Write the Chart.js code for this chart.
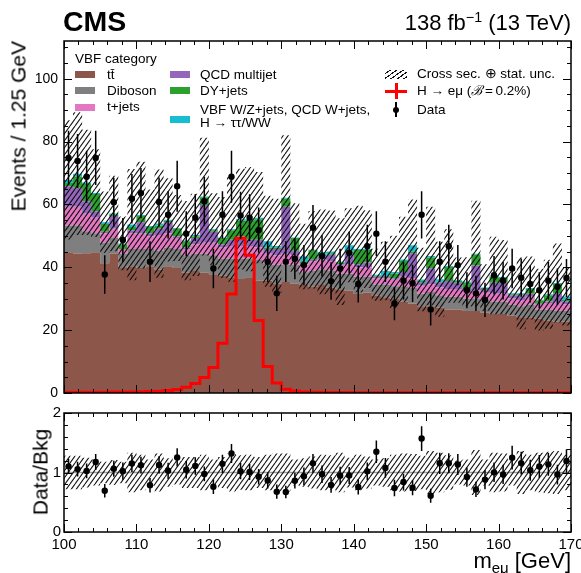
<!DOCTYPE html>
<html>
<head>
<meta charset="utf-8">
<script src="https://cdn.jsdelivr.net/npm/chart.js@4.4.1/dist/chart.umd.min.js"></script>
<style>
body{margin:0;background:#fff;font-family:"Liberation Sans",Arial,Helvetica,sans-serif;color:#000;}
#wrap{position:relative;width:581px;height:573px;overflow:hidden;}
canvas{position:absolute;left:0;}
.t{position:absolute;white-space:nowrap;line-height:1;}
.lg{font-size:13.5px;transform:translateY(-50%);}
.box{position:absolute;width:20px;height:7px;}
</style>
</head>
<body>
<div id="wrap">
  <canvas id="main" width="581" height="400" style="top:0"></canvas>
  <canvas id="ratio" width="581" height="173" style="top:400px"></canvas>

  <div class="t" style="left:63px;top:7px;font-size:28.5px;font-weight:bold;">CMS</div>
  <div class="t" style="right:10px;top:12px;font-size:22px;">138 fb<span style="font-size:0.65em;position:relative;top:-0.55em;">&minus;1</span> (13 TeV)</div>

  <div class="t" style="left:18px;top:41px;font-size:21px;transform-origin:0 0;transform:rotate(-90deg) translate(-100%,-50%);">Events / 1.25 GeV</div>
  <div class="t" style="left:40px;top:472px;font-size:21px;transform-origin:0 0;transform:rotate(-90deg) translate(-50%,-50%);">Data/Bkg</div>
  <div class="t" style="right:10px;top:550px;font-size:22px;">m<span style="font-size:0.68em;position:relative;top:0.35em;">eμ</span> [GeV]</div>

  <!-- legend -->
  <div class="t lg" style="left:75px;top:59px;">VBF category</div>
  <div class="box" style="left:75px;top:71px;background:#8c564b"></div>
  <div class="t lg" style="left:107px;top:74.5px;">tt&#x0304;</div>
  <div class="box" style="left:75px;top:87px;background:#7f7f7f"></div>
  <div class="t lg" style="left:107px;top:90.5px;">Diboson</div>
  <div class="box" style="left:75px;top:103.5px;background:#e377c2"></div>
  <div class="t lg" style="left:107px;top:107px;">t+jets</div>

  <div class="box" style="left:170px;top:71px;background:#9467bd"></div>
  <div class="t lg" style="left:200px;top:74.5px;">QCD multijet</div>
  <div class="box" style="left:170px;top:87px;background:#2ca02c"></div>
  <div class="t lg" style="left:200px;top:90.5px;">DY+jets</div>
  <div class="box" style="left:170px;top:116px;background:#17becf"></div>
  <div class="t lg" style="left:200px;top:110px;">VBF W/Z+jets, QCD W+jets,</div>
  <div class="t lg" style="left:200px;top:123px;">H &rarr; &tau;&tau;/WW</div>

  <div class="box" style="left:385px;top:70px;width:22px;height:9px;background:repeating-linear-gradient(145deg,#fff 0 2.6px,#111 2.6px 3.7px);"></div>
  <div class="t lg" style="left:417px;top:74px;">Cross sec. &oplus; stat. unc.</div>
  <div style="position:absolute;left:385px;top:89.5px;width:22px;height:3px;background:#ff0000"></div>
  <div style="position:absolute;left:394.5px;top:83px;width:3px;height:16px;background:#ff0000"></div>
  <div class="t lg" style="left:417px;top:91px;">H &rarr; eμ (<i>ℬ</i>&thinsp;=&thinsp;0.2%)</div>
  <div style="position:absolute;left:395.2px;top:102px;width:1.6px;height:15px;background:#000"></div>
  <div style="position:absolute;left:393px;top:106.5px;width:6px;height:6px;border-radius:50%;background:#000"></div>
  <div class="t lg" style="left:417px;top:110px;">Data</div>
</div>

<script>
// binning
const binStart = 100;
const binWidth = 1.25;
const xTickLabels = [100,110,120,130,140,150,160,170];
const yTickLabels = [0,20,40,60,80,100];
const ratioTickLabels = [0,1,2];

// backgrounds, events per bin
const ttbar = [44.8,44.3,44.5,44.8,41.3,44.3,39.8,40.3,39.8,40.3,
  39.3,40.3,39.8,38.3,38.8,38.3,37.8,37.3,36.8,36.3,
  36.8,35.8,35.8,34.8,35.3,34.8,34.4,33.9,34.4,33.5,
  33.0,32.5,31.5,32.0,31.0,30.5,30.0,29.0,28.5,27.6,
  27.6,27.1,26.6,26.6,26.1,26.1,25.6,25.1,25.1,24.6,
  24.1,24.1,23.6,23.1,22.7,22.7];
const diboson = [8.5,9.0,7.0,6.0,6.5,5.0,4.5,5.5,6.0,5.5,
  6.0,6.0,6.0,5.5,5.5,6.0,6.0,5.5,6.0,6.5,
  6.0,6.5,5.5,6.0,5.5,6.0,4.0,5.0,5.0,5.5,
  5.0,5.5,5.5,5.0,3.5,4.0,4.0,5.0,5.0,4.0,
  4.5,4.0,4.0,4.0,4.0,4.0,4.0,4.0,4.0,3.5,
  3.5,4.0,3.0,3.5,3.5,3.5];
const tjets = [6.0,6.0,5.5,5.0,3.0,3.0,1.5,5.0,5.0,4.0,
  5.0,4.5,3.5,2.0,3.0,3.5,4.0,3.5,4.0,4.0,
  4.0,4.0,3.0,3.0,3.5,3.0,2.5,3.0,3.0,3.0,
  2.5,3.0,3.0,3.0,2.0,2.0,2.0,3.0,3.0,2.5,
  2.5,2.5,2.5,2.5,2.0,2.5,2.5,2.5,2.5,2.0,
  2.0,2.5,1.5,2.0,2.5,2.0];
const qcd = [6.5,6.0,4.0,2.0,0.5,4.0,0.0,1.0,3.5,1.0,
  2.0,3.5,0.5,0.5,2.0,12.0,3.5,1.0,2.0,3.0,
  2.0,2.5,1.5,2.0,15.0,1.5,0.5,0.5,1.0,2.0,
  0.5,3.5,1.0,1.5,0.5,0.5,0.5,1.5,8.0,1.0,
  5.0,1.5,2.5,2.0,1.0,8.0,1.0,3.5,3.5,1.0,
  1.5,1.0,0.3,0.5,3.0,1.0];
const dyjets = [1.0,3.5,5.5,5.5,2.5,0.5,1.5,1.0,2.0,2.0,
  1.0,0.5,2.5,2.0,0.5,2.5,0.5,2.0,3.0,5.0,
  6.0,6.5,0.5,0.5,2.5,4.0,0.5,3.0,0.5,0.5,
  0.5,0.5,4.5,4.0,0.3,0.3,1.5,3.5,0.5,0.5,
  3.5,0.3,4.5,0.5,2.0,3.5,0.3,2.0,1.5,0.3,
  0.3,1.5,1.0,2.0,3.0,0.5];
const vbfOther = [1.0,1.0,0.5,0.3,0.5,0.3,0.3,0.8,0.3,0.3,
  0.6,0.3,0.2,0.2,0.5,0.2,0.3,0.2,0.3,0.5,
  0.5,0.5,2.0,0.5,0.3,0.2,1.5,0.2,1.0,0.5,
  0.3,2.0,0.3,0.3,0.3,1.5,0.5,0.5,2.0,0.5,
  0.5,0.8,0.3,0.3,0.3,0.2,0.2,0.3,0.3,0.3,
  0.3,0.3,0.3,0.3,0.3,1.0];

// relative cross sec. + stat. uncertainty of the background sum
const relUnc = [0.28,0.28,0.25,0.22,0.18,0.21,0.18,0.33,0.30,0.22,
  0.32,0.24,0.20,0.26,0.26,0.30,0.22,0.26,0.32,0.29,
  0.30,0.26,0.30,0.32,0.32,0.22,0.24,0.27,0.30,0.29,
  0.33,0.25,0.30,0.27,0.22,0.24,0.30,0.32,0.31,0.28,
  0.36,0.33,0.29,0.20,0.22,0.38,0.22,0.33,0.32,0.22,
  0.36,0.30,0.33,0.35,0.36,0.30];

// H -> e mu signal, B = 0.2%
const signal = [0.2,0.2,0.2,0.25,0.25,0.3,0.3,0.35,0.4,0.45,
  0.55,0.8,1.1,1.8,3.0,4.9,8.1,15.8,31.5,49.2,
  43.8,23.1,8.4,3.2,1.2,0.6,0.35,0.25,0.2,0.15,
  0.15,0.12,0.1,0.1,0.1,0.1,0.1,0.1,0.1,0.1,
  0.1,0.1,0.1,0.1,0.1,0.1,0.1,0.1,0.1,0.1,
  0.1,0.1,0.1,0.1,0.1,0.1];

// observed
const dataCounts = [74.8,73.8,68.8,74.8,37.7,60.7,48.7,61.8,63.6,41.8,
  60.8,56.7,65.8,50.7,55.8,61.0,39.6,56.7,68.8,56.5,
  55.8,51.8,41.8,31.7,41.8,42.7,40.7,52.6,43.6,35.6,
  39.6,44.6,34.7,46.7,50.7,41.8,28.5,35.7,34.9,56.7,
  26.6,41.8,46.7,40.7,32.7,31.7,29.6,37.5,35.7,39.6,
  36.7,34.7,32.7,35.7,33.8,36.6];

const bkgNames = ["tt\u0304","Diboson","t+jets","QCD multijet","DY+jets","VBF W/Z+jets, QCD W+jets, H\u2192\u03c4\u03c4/WW"];
const bkgColors = ["#8c564b","#7f7f7f","#e377c2","#9467bd","#2ca02c","#17becf"];

Chart.defaults.font.family = '"Liberation Sans", Arial, Helvetica, sans-serif';
Chart.defaults.color = "#000";

// step points: one per lower bin edge, last value repeated at the upper edge
function stepPts(vals){
    const pts = vals.map((v,i)=>({x:binStart+binWidth*i, y:v}));
    pts.push({x:binStart+binWidth*vals.length, y:vals[vals.length-1]});
    return pts;
}
function centerPts(vals){
    return vals.map((v,i)=>({x:binStart+binWidth*(i+0.5), y:v}));
}

// cumulative stack
const comps = [ttbar, diboson, tjets, qcd, dyjets, vbfOther];
const cum = [];
let run = ttbar.map(()=>0);
comps.forEach(c=>{
    run = run.map((r,i)=>r+c[i]);
    cum.push(run);
});
const total = run;

// hatch pattern, steep "////"
function hatch(){
    const w = 5, h = 7;
    const c = document.createElement("canvas");
    c.width = w; c.height = h;
    const g = c.getContext("2d");
    g.strokeStyle = "rgba(10,10,10,0.95)";
    g.lineWidth = 1.1;
    g.beginPath();
    g.moveTo(0,h); g.lineTo(w,0);
    g.moveTo(-w,h); g.lineTo(0,0);
    g.moveTo(w,h); g.lineTo(2*w,0);
    g.stroke();
    return g.createPattern(c,"repeat");
}
const hatchFill = hatch();

// error bars for datasets that carry an "errors" list
const errorBars = {
    id:"errorBars",
    beforeDatasetDraw(chart, args){
        const ds = chart.data.datasets[args.index];
        if(!ds.errors) return;
        const ctx = chart.ctx, x = chart.scales.x, y = chart.scales.y, a = chart.chartArea;
        ctx.save();
        ctx.beginPath();
        ctx.rect(a.left, a.top, a.right-a.left, a.bottom-a.top);
        ctx.clip();
        ctx.strokeStyle = "#000";
        ctx.lineWidth = 1.5;
        ctx.beginPath();
        ds.data.forEach((p,i)=>{
            const px = x.getPixelForValue(p.x);
            ctx.moveTo(px, y.getPixelForValue(p.y - ds.errors[i]));
            ctx.lineTo(px, y.getPixelForValue(p.y + ds.errors[i]));
        });
        ctx.stroke();
        ctx.restore();
    }
};

// frame with inward major/minor ticks on all four sides
const frameTicks = {
    id:"frameTicks",
    afterDraw(chart, args, o){
        const ctx = chart.ctx, a = chart.chartArea, x = chart.scales.x, y = chart.scales.y;
        ctx.save();
        ctx.strokeStyle = "#000";
        ctx.lineWidth = 1;
        ctx.beginPath();
        const nx = Math.round((o.xMax-o.xMin)/o.xMinor);
        for(let i=0;i<=nx;i++){
            const v = o.xMin + i*o.xMinor;
            const major = Math.abs(v/o.xMajor - Math.round(v/o.xMajor)) < 1e-6;
            const L = major ? o.major : o.minor;
            const px = Math.round(x.getPixelForValue(v)) + 0.5;
            ctx.moveTo(px, a.bottom); ctx.lineTo(px, a.bottom-L);
            ctx.moveTo(px, a.top); ctx.lineTo(px, a.top+L);
        }
        const ny = Math.floor((o.yMax-o.yMin)/o.yMinor + 1e-6);
        for(let i=0;i<=ny;i++){
            const v = o.yMin + i*o.yMinor;
            const major = Math.abs(v/o.yMajor - Math.round(v/o.yMajor)) < 1e-6;
            const L = major ? o.major : o.minor;
            const py = Math.round(y.getPixelForValue(v)) + 0.5;
            ctx.moveTo(a.left, py); ctx.lineTo(a.left+L, py);
            ctx.moveTo(a.right, py); ctx.lineTo(a.right-L, py);
        }
        ctx.stroke();
        ctx.lineWidth = 1.5;
        ctx.strokeRect(a.left, a.top, a.right-a.left, a.bottom-a.top);
        ctx.restore();
    }
};

const none = "rgba(0,0,0,0)";

// MAIN PANEL
const mainSets = comps.map((c,k)=>({
    type:"line",
    label:bkgNames[k],
    data:stepPts(cum[k]),
    stepped:true,
    borderWidth:0,
    borderColor:none,
    backgroundColor:bkgColors[k],
    pointRadius:0,
    fill:k===0 ? "origin" : "-1",
    order:10
}));
mainSets.push({
    type:"line", label:"unc up",
    data:stepPts(total.map((t,i)=>t*(1+relUnc[i]))),
    stepped:true, borderWidth:0, borderColor:none, pointRadius:0, fill:false, order:3
});
mainSets.push({
    type:"line", label:"Cross sec. \u2295 stat. unc.",
    data:stepPts(total.map((t,i)=>t*(1-relUnc[i]))),
    stepped:true, borderWidth:0, borderColor:none, pointRadius:0,
    backgroundColor:hatchFill, fill:"-1", order:3
});
mainSets.push({
    type:"line", label:"H\u2192e\u03bc (B = 0.2%)",
    data:stepPts(signal),
    stepped:true, borderWidth:3, borderColor:"#ff0000", pointRadius:0, fill:false, order:2
});
mainSets.push({
    type:"scatter", label:"Data",
    data:centerPts(dataCounts),
    errors:dataCounts.map(d=>Math.sqrt(d)),
    pointRadius:3.2, pointBackgroundColor:"#000", pointBorderWidth:0, order:1
});

new Chart(document.getElementById("main"),{
    type:"line",
    data:{datasets:mainSets},
    plugins:[errorBars, frameTicks],
    options:{
        responsive:false,
        animation:false,
        devicePixelRatio:1,
        layout:{padding:{left:0,right:10,top:41,bottom:7}},
        plugins:{
            legend:{display:false},
            tooltip:{enabled:false},
            frameTicks:{xMin:100,xMax:170,xMinor:2,xMajor:10,yMin:0,yMax:112,yMinor:5,yMajor:20,major:8,minor:4}
        },
        scales:{
            x:{type:"linear",min:100,max:170,display:false},
            y:{
                type:"linear",min:0,max:112,
                grid:{display:false,drawTicks:false},
                border:{display:false},
                ticks:{font:{size:14},padding:6},
                afterBuildTicks:s=>{ s.ticks = yTickLabels.map(v=>({value:v})); },
                afterFit:s=>{ s.width = 64; s.paddingTop = 0; s.paddingBottom = 0; }
            }
        }
    }
});

// RATIO PANEL
const ratioVals = dataCounts.map((d,i)=>d/total[i]);
const ratioErr = dataCounts.map((d,i)=>Math.sqrt(d)/total[i]);

new Chart(document.getElementById("ratio"),{
    type:"line",
    data:{datasets:[
        {type:"line",label:"unity",data:[{x:100,y:1},{x:170,y:1}],borderColor:"#9a9a9a",borderWidth:1.5,pointRadius:0,fill:false,order:5},
        {type:"line",label:"unc up",data:stepPts(relUnc.map(r=>1+r)),stepped:true,borderWidth:0,borderColor:none,pointRadius:0,fill:false,order:3},
        {type:"line",label:"unc",data:stepPts(relUnc.map(r=>1-r)),stepped:true,borderWidth:0,borderColor:none,pointRadius:0,backgroundColor:hatchFill,fill:"-1",order:3},
        {type:"scatter",label:"Data/Bkg",data:centerPts(ratioVals),errors:ratioErr,pointRadius:3.2,pointBackgroundColor:"#000",pointBorderWidth:0,order:1}
    ]},
    plugins:[errorBars, frameTicks],
    options:{
        responsive:false,
        animation:false,
        devicePixelRatio:1,
        layout:{padding:{left:0,right:10,top:13,bottom:0}},
        plugins:{
            legend:{display:false},
            tooltip:{enabled:false},
            frameTicks:{xMin:100,xMax:170,xMinor:2,xMajor:10,yMin:0,yMax:2,yMinor:0.2,yMajor:1,major:8,minor:4}
        },
        scales:{
            x:{
                type:"linear",min:100,max:170,
                grid:{display:false,drawTicks:false},
                border:{display:false},
                ticks:{font:{size:15},padding:4,maxRotation:0,autoSkip:false},
                afterBuildTicks:s=>{ s.ticks = xTickLabels.map(v=>({value:v})); },
                afterFit:s=>{ s.height = 41; s.paddingLeft = 0; s.paddingRight = 0; }
            },
            y:{
                type:"linear",min:0,max:2,
                grid:{display:false,drawTicks:false},
                border:{display:false},
                ticks:{font:{size:15},padding:3},
                afterBuildTicks:s=>{ s.ticks = ratioTickLabels.map(v=>({value:v})); },
                afterFit:s=>{ s.width = 64; s.paddingTop = 0; s.paddingBottom = 0; }
            }
        }
    }
});
</script>
</body>
</html>
